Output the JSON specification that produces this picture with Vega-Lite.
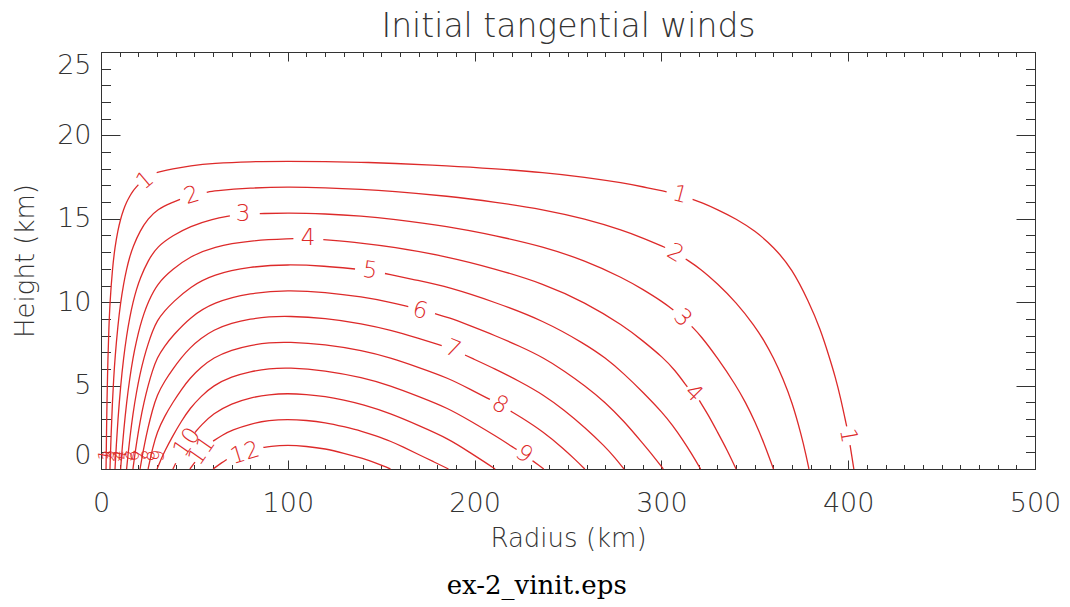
{
  "$schema": "https://vega.github.io/schema/vega-lite/v6.json",
  "width": 934,
  "height": 417,
  "autosize": {"type": "none"},
  "padding": {"left": 101, "top": 52, "right": 35, "bottom": 138},
  "background": "white",
  "title": {"text": "ex-2_vinit.eps", "orient": "bottom", "anchor": "middle", "frame": "bounds", "font": "DejaVu Serif", "fontSize": 26, "fontWeight": "normal", "color": "black", "offset": 22},
  "config": {
    "view": {"stroke": null},
    "axis": {"grid": false, "domainColor": "#333", "tickColor": "#333", "labelColor": "#333", "titleColor": "#333", "labelFont": "DejaVu Sans", "titleFont": "DejaVu Sans", "labelFontWeight": 200, "titleFontWeight": 200, "domainWidth": 1, "tickWidth": 1, "labelOverlap": false}
  },
  "datasets": {
    "lines": [
      {"seg": "1a", "r": 2.7, "z": 0}, {"seg": "1a", "r": 3.0, "z": 2.61}, {"seg": "1a", "r": 3.2, "z": 4.0}, {"seg": "1a", "r": 3.7, "z": 6.67}, {"seg": "1a", "r": 4.2, "z": 8.42}, {"seg": "1a", "r": 4.8, "z": 10}, {"seg": "1a", "r": 6.1, "z": 12}, {"seg": "1a", "r": 7.5, "z": 13.33}, {"seg": "1a", "r": 9, "z": 14.29}, {"seg": "1a", "r": 10.5, "z": 15}, {"seg": "1a", "r": 12.1, "z": 15.56}, {"seg": "1a", "r": 13.7, "z": 16}, {"seg": "1a", "r": 15.4, "z": 16.36}, {"seg": "1a", "r": 17.1, "z": 16.67}, {"seg": "1a", "r": 19, "z": 16.92}, {"seg": "1a", "r": 20, "z": 17.04},
      {"seg": "1b", "r": 29.8, "z": 17.77}, {"seg": "1b", "r": 38.5, "z": 18}, {"seg": "1b", "r": 47.6, "z": 18.18}, {"seg": "1b", "r": 60, "z": 18.33}, {"seg": "1b", "r": 80, "z": 18.43}, {"seg": "1b", "r": 100, "z": 18.45}, {"seg": "1b", "r": 120, "z": 18.44}, {"seg": "1b", "r": 140, "z": 18.39}, {"seg": "1b", "r": 155, "z": 18.33}, {"seg": "1b", "r": 186, "z": 18.18}, {"seg": "1b", "r": 211, "z": 18}, {"seg": "1b", "r": 237, "z": 17.78}, {"seg": "1b", "r": 259, "z": 17.5}, {"seg": "1b", "r": 280, "z": 17.14}, {"seg": "1b", "r": 290, "z": 16.92}, {"seg": "1b", "r": 302.8, "z": 16.62},
      {"seg": "1c", "r": 316.7, "z": 16.16}, {"seg": "1c", "r": 321, "z": 16}, {"seg": "1c", "r": 330, "z": 15.56}, {"seg": "1c", "r": 340, "z": 15}, {"seg": "1c", "r": 350, "z": 14.29}, {"seg": "1c", "r": 360, "z": 13.33}, {"seg": "1c", "r": 370, "z": 12}, {"seg": "1c", "r": 379, "z": 10}, {"seg": "1c", "r": 385, "z": 8.42}, {"seg": "1c", "r": 390, "z": 6.67}, {"seg": "1c", "r": 393, "z": 5.56}, {"seg": "1c", "r": 396, "z": 4.24}, {"seg": "1c", "r": 399.2, "z": 2.55},
      {"seg": "1d", "r": 401, "z": 1.43}, {"seg": "1d", "r": 402, "z": 0.74}, {"seg": "1d", "r": 403, "z": 0},
      {"seg": "2a", "r": 4.8, "z": 0}, {"seg": "2a", "r": 5.4, "z": 2.07}, {"seg": "2a", "r": 6.1, "z": 4}, {"seg": "2a", "r": 6.8, "z": 5.45}, {"seg": "2a", "r": 7.5, "z": 6.67}, {"seg": "2a", "r": 9, "z": 8.57}, {"seg": "2a", "r": 10.5, "z": 10}, {"seg": "2a", "r": 12.1, "z": 11.11}, {"seg": "2a", "r": 13.7, "z": 12}, {"seg": "2a", "r": 15.4, "z": 12.73}, {"seg": "2a", "r": 17.1, "z": 13.33}, {"seg": "2a", "r": 20.9, "z": 14.29}, {"seg": "2a", "r": 25.2, "z": 15}, {"seg": "2a", "r": 30, "z": 15.56}, {"seg": "2a", "r": 38.5, "z": 16}, {"seg": "2a", "r": 42.3, "z": 16.16},
      {"seg": "2b", "r": 56.6, "z": 16.59}, {"seg": "2b", "r": 60, "z": 16.67}, {"seg": "2b", "r": 80, "z": 16.86}, {"seg": "2b", "r": 100, "z": 16.91}, {"seg": "2b", "r": 120, "z": 16.87}, {"seg": "2b", "r": 140, "z": 16.77}, {"seg": "2b", "r": 155, "z": 16.67}, {"seg": "2b", "r": 186, "z": 16.36}, {"seg": "2b", "r": 211, "z": 16}, {"seg": "2b", "r": 237, "z": 15.56}, {"seg": "2b", "r": 259, "z": 15}, {"seg": "2b", "r": 280, "z": 14.29}, {"seg": "2b", "r": 290, "z": 13.85}, {"seg": "2b", "r": 302, "z": 13.28},
      {"seg": "2c", "r": 313, "z": 12.59}, {"seg": "2c", "r": 321, "z": 12}, {"seg": "2c", "r": 330, "z": 11.11}, {"seg": "2c", "r": 340, "z": 10}, {"seg": "2c", "r": 350, "z": 8.57}, {"seg": "2c", "r": 355, "z": 7.69}, {"seg": "2c", "r": 360, "z": 6.67}, {"seg": "2c", "r": 365, "z": 5.45}, {"seg": "2c", "r": 370, "z": 4}, {"seg": "2c", "r": 375, "z": 2}, {"seg": "2c", "r": 377.5, "z": 0.8}, {"seg": "2c", "r": 379, "z": 0},
      {"seg": "3a", "r": 7.5, "z": 0}, {"seg": "3a", "r": 8.2, "z": 1.44}, {"seg": "3a", "r": 9, "z": 2.86}, {"seg": "3a", "r": 10.5, "z": 5}, {"seg": "3a", "r": 12.1, "z": 6.67}, {"seg": "3a", "r": 13.7, "z": 8}, {"seg": "3a", "r": 15.4, "z": 9.09}, {"seg": "3a", "r": 17.1, "z": 10}, {"seg": "3a", "r": 19, "z": 10.77}, {"seg": "3a", "r": 20.9, "z": 11.43}, {"seg": "3a", "r": 25.2, "z": 12.5}, {"seg": "3a", "r": 30, "z": 13.33}, {"seg": "3a", "r": 38.5, "z": 14}, {"seg": "3a", "r": 47.6, "z": 14.55}, {"seg": "3a", "r": 60, "z": 15}, {"seg": "3a", "r": 69, "z": 15.17},
      {"seg": "3b", "r": 85, "z": 15.31}, {"seg": "3b", "r": 100, "z": 15.36}, {"seg": "3b", "r": 120, "z": 15.3}, {"seg": "3b", "r": 140, "z": 15.16}, {"seg": "3b", "r": 155, "z": 15}, {"seg": "3b", "r": 186, "z": 14.55}, {"seg": "3b", "r": 211, "z": 14}, {"seg": "3b", "r": 237, "z": 13.33}, {"seg": "3b", "r": 259, "z": 12.5}, {"seg": "3b", "r": 280, "z": 11.43}, {"seg": "3b", "r": 290, "z": 10.77}, {"seg": "3b", "r": 301, "z": 10}, {"seg": "3b", "r": 306.4, "z": 9.53},
      {"seg": "3c", "r": 316.2, "z": 8.55}, {"seg": "3c", "r": 321, "z": 8}, {"seg": "3c", "r": 330, "z": 6.67}, {"seg": "3c", "r": 340, "z": 5}, {"seg": "3c", "r": 345, "z": 4}, {"seg": "3c", "r": 350, "z": 2.86}, {"seg": "3c", "r": 355, "z": 1.54}, {"seg": "3c", "r": 360, "z": 0},
      {"seg": "4a", "r": 10.5, "z": 0}, {"seg": "4a", "r": 11.3, "z": 1.18}, {"seg": "4a", "r": 12.1, "z": 2.22}, {"seg": "4a", "r": 13.7, "z": 4}, {"seg": "4a", "r": 15.4, "z": 5.45}, {"seg": "4a", "r": 17.1, "z": 6.67}, {"seg": "4a", "r": 19, "z": 7.69}, {"seg": "4a", "r": 20.9, "z": 8.57}, {"seg": "4a", "r": 23, "z": 9.33}, {"seg": "4a", "r": 25.2, "z": 10}, {"seg": "4a", "r": 30, "z": 11.11}, {"seg": "4a", "r": 38.5, "z": 12}, {"seg": "4a", "r": 47.6, "z": 12.73}, {"seg": "4a", "r": 60, "z": 13.33}, {"seg": "4a", "r": 80, "z": 13.71}, {"seg": "4a", "r": 103, "z": 13.81},
      {"seg": "4b", "r": 119, "z": 13.75}, {"seg": "4b", "r": 140, "z": 13.55}, {"seg": "4b", "r": 155, "z": 13.33}, {"seg": "4b", "r": 186, "z": 12.73}, {"seg": "4b", "r": 211, "z": 12}, {"seg": "4b", "r": 237, "z": 11.11}, {"seg": "4b", "r": 259, "z": 10}, {"seg": "4b", "r": 280, "z": 8.57}, {"seg": "4b", "r": 290, "z": 7.69}, {"seg": "4b", "r": 301, "z": 6.67}, {"seg": "4b", "r": 307, "z": 5.96}, {"seg": "4b", "r": 313.9, "z": 4.92},
      {"seg": "4c", "r": 320.3, "z": 4.11}, {"seg": "4c", "r": 325, "z": 3.26}, {"seg": "4c", "r": 330, "z": 2.22}, {"seg": "4c", "r": 335, "z": 1.18}, {"seg": "4c", "r": 340, "z": 0},
      {"seg": "5a", "r": 13.7, "z": 0}, {"seg": "5a", "r": 14.5, "z": 0.9}, {"seg": "5a", "r": 15.4, "z": 1.82}, {"seg": "5a", "r": 17.1, "z": 3.33}, {"seg": "5a", "r": 19, "z": 4.62}, {"seg": "5a", "r": 20.9, "z": 5.71}, {"seg": "5a", "r": 23, "z": 6.67}, {"seg": "5a", "r": 25.2, "z": 7.5}, {"seg": "5a", "r": 27.5, "z": 8.24}, {"seg": "5a", "r": 30, "z": 8.89}, {"seg": "5a", "r": 34, "z": 9.47}, {"seg": "5a", "r": 38.5, "z": 10}, {"seg": "5a", "r": 47.6, "z": 10.91}, {"seg": "5a", "r": 60, "z": 11.67}, {"seg": "5a", "r": 80, "z": 12.14}, {"seg": "5a", "r": 100, "z": 12.27}, {"seg": "5a", "r": 120, "z": 12.17}, {"seg": "5a", "r": 136, "z": 11.99},
      {"seg": "5b", "r": 152, "z": 11.72}, {"seg": "5b", "r": 170, "z": 11.3}, {"seg": "5b", "r": 186, "z": 10.91}, {"seg": "5b", "r": 211, "z": 10}, {"seg": "5b", "r": 237, "z": 8.89}, {"seg": "5b", "r": 259, "z": 7.5}, {"seg": "5b", "r": 270, "z": 6.67}, {"seg": "5b", "r": 280, "z": 5.71}, {"seg": "5b", "r": 290, "z": 4.62}, {"seg": "5b", "r": 301, "z": 3.33}, {"seg": "5b", "r": 306, "z": 2.61}, {"seg": "5b", "r": 311, "z": 1.82}, {"seg": "5b", "r": 316, "z": 0.95}, {"seg": "5b", "r": 321, "z": 0},
      {"seg": "6a", "r": 17.1, "z": 0}, {"seg": "6a", "r": 18, "z": 0.76}, {"seg": "6a", "r": 19, "z": 1.54}, {"seg": "6a", "r": 20.9, "z": 2.86}, {"seg": "6a", "r": 23, "z": 4}, {"seg": "6a", "r": 25.2, "z": 5}, {"seg": "6a", "r": 27.5, "z": 5.88}, {"seg": "6a", "r": 30, "z": 6.67}, {"seg": "6a", "r": 34, "z": 7.37}, {"seg": "6a", "r": 38.5, "z": 8}, {"seg": "6a", "r": 47.6, "z": 9.09}, {"seg": "6a", "r": 60, "z": 10}, {"seg": "6a", "r": 80, "z": 10.57}, {"seg": "6a", "r": 100, "z": 10.72}, {"seg": "6a", "r": 120, "z": 10.61}, {"seg": "6a", "r": 140, "z": 10.32}, {"seg": "6a", "r": 155, "z": 10}, {"seg": "6a", "r": 164.5, "z": 9.73},
      {"seg": "6b", "r": 178.8, "z": 9.31}, {"seg": "6b", "r": 186, "z": 9.09}, {"seg": "6b", "r": 198, "z": 8.57}, {"seg": "6b", "r": 211, "z": 8}, {"seg": "6b", "r": 224, "z": 7.37}, {"seg": "6b", "r": 237, "z": 6.67}, {"seg": "6b", "r": 248, "z": 5.88}, {"seg": "6b", "r": 259, "z": 5}, {"seg": "6b", "r": 270, "z": 4}, {"seg": "6b", "r": 280, "z": 2.86}, {"seg": "6b", "r": 290, "z": 1.54}, {"seg": "6b", "r": 296, "z": 0.73}, {"seg": "6b", "r": 301, "z": 0},
      {"seg": "7a", "r": 20.9, "z": 0}, {"seg": "7a", "r": 22, "z": 0.72}, {"seg": "7a", "r": 23, "z": 1.33}, {"seg": "7a", "r": 25.2, "z": 2.5}, {"seg": "7a", "r": 27.5, "z": 3.53}, {"seg": "7a", "r": 30, "z": 4.44}, {"seg": "7a", "r": 34, "z": 5.26}, {"seg": "7a", "r": 38.5, "z": 6}, {"seg": "7a", "r": 43, "z": 6.67}, {"seg": "7a", "r": 47.6, "z": 7.27}, {"seg": "7a", "r": 53.5, "z": 7.83}, {"seg": "7a", "r": 60, "z": 8.33}, {"seg": "7a", "r": 70, "z": 8.76}, {"seg": "7a", "r": 80, "z": 9.0}, {"seg": "7a", "r": 90, "z": 9.13}, {"seg": "7a", "r": 100, "z": 9.17}, {"seg": "7a", "r": 120, "z": 9.05}, {"seg": "7a", "r": 140, "z": 8.71}, {"seg": "7a", "r": 155, "z": 8.33}, {"seg": "7a", "r": 170, "z": 7.83}, {"seg": "7a", "r": 182.4, "z": 7.4},
      {"seg": "7b", "r": 194.9, "z": 6.83}, {"seg": "7b", "r": 198, "z": 6.67}, {"seg": "7b", "r": 211, "z": 6}, {"seg": "7b", "r": 224, "z": 5.26}, {"seg": "7b", "r": 237, "z": 4.44}, {"seg": "7b", "r": 248, "z": 3.53}, {"seg": "7b", "r": 259, "z": 2.5}, {"seg": "7b", "r": 270, "z": 1.33}, {"seg": "7b", "r": 275, "z": 0.69}, {"seg": "7b", "r": 280, "z": 0},
      {"seg": "8a", "r": 25.2, "z": 0}, {"seg": "8a", "r": 26.3, "z": 0.58}, {"seg": "8a", "r": 27.5, "z": 1.18}, {"seg": "8a", "r": 30, "z": 2.22}, {"seg": "8a", "r": 34, "z": 3.16}, {"seg": "8a", "r": 38.5, "z": 4}, {"seg": "8a", "r": 43, "z": 4.76}, {"seg": "8a", "r": 47.6, "z": 5.45}, {"seg": "8a", "r": 53.5, "z": 6.09}, {"seg": "8a", "r": 60, "z": 6.67}, {"seg": "8a", "r": 70, "z": 7.15}, {"seg": "8a", "r": 80, "z": 7.42}, {"seg": "8a", "r": 90, "z": 7.58}, {"seg": "8a", "r": 100, "z": 7.62}, {"seg": "8a", "r": 120, "z": 7.48}, {"seg": "8a", "r": 140, "z": 7.1}, {"seg": "8a", "r": 155, "z": 6.67}, {"seg": "8a", "r": 170, "z": 6.09}, {"seg": "8a", "r": 186, "z": 5.45}, {"seg": "8a", "r": 198, "z": 4.76}, {"seg": "8a", "r": 208.2, "z": 4.17},
      {"seg": "8b", "r": 219.3, "z": 3.47}, {"seg": "8b", "r": 224, "z": 3.16}, {"seg": "8b", "r": 237, "z": 2.22}, {"seg": "8b", "r": 248, "z": 1.18}, {"seg": "8b", "r": 254, "z": 0.55}, {"seg": "8b", "r": 259, "z": 0},
      {"seg": "9a", "r": 30, "z": 0}, {"seg": "9a", "r": 32, "z": 0.54}, {"seg": "9a", "r": 34, "z": 1.05}, {"seg": "9a", "r": 38.5, "z": 2}, {"seg": "9a", "r": 43, "z": 2.86}, {"seg": "9a", "r": 47.6, "z": 3.64}, {"seg": "9a", "r": 53.5, "z": 4.35}, {"seg": "9a", "r": 60, "z": 5}, {"seg": "9a", "r": 70, "z": 5.54}, {"seg": "9a", "r": 80, "z": 5.85}, {"seg": "9a", "r": 90, "z": 6.02}, {"seg": "9a", "r": 100, "z": 6.08}, {"seg": "9a", "r": 120, "z": 5.92}, {"seg": "9a", "r": 140, "z": 5.48}, {"seg": "9a", "r": 155, "z": 5}, {"seg": "9a", "r": 170, "z": 4.35}, {"seg": "9a", "r": 186, "z": 3.64}, {"seg": "9a", "r": 198, "z": 2.86}, {"seg": "9a", "r": 211, "z": 2}, {"seg": "9a", "r": 222.5, "z": 1.17},
      {"seg": "9b", "r": 231, "z": 0.5}, {"seg": "9b", "r": 234, "z": 0.25}, {"seg": "9b", "r": 237, "z": 0},
      {"seg": "10a", "r": 38.5, "z": 0}, {"seg": "10a", "r": 40, "z": 0.34},
      {"seg": "10b", "r": 50.3, "z": 2.19}, {"seg": "10b", "r": 53.5, "z": 2.61}, {"seg": "10b", "r": 60, "z": 3.33}, {"seg": "10b", "r": 70, "z": 3.94}, {"seg": "10b", "r": 80, "z": 4.28}, {"seg": "10b", "r": 90, "z": 4.47}, {"seg": "10b", "r": 100, "z": 4.53}, {"seg": "10b", "r": 110, "z": 4.47}, {"seg": "10b", "r": 120, "z": 4.35}, {"seg": "10b", "r": 130, "z": 4.13}, {"seg": "10b", "r": 140, "z": 3.87}, {"seg": "10b", "r": 155, "z": 3.33}, {"seg": "10b", "r": 170, "z": 2.61}, {"seg": "10b", "r": 186, "z": 1.82}, {"seg": "10b", "r": 198, "z": 0.95}, {"seg": "10b", "r": 205, "z": 0.45}, {"seg": "10b", "r": 211, "z": 0},
      {"seg": "11a", "r": 47.6, "z": 0}, {"seg": "11a", "r": 50.3, "z": 0.41},
      {"seg": "11b", "r": 60, "z": 1.67}, {"seg": "11b", "r": 65, "z": 2.04}, {"seg": "11b", "r": 70, "z": 2.33}, {"seg": "11b", "r": 80, "z": 2.71}, {"seg": "11b", "r": 90, "z": 2.92}, {"seg": "11b", "r": 100, "z": 2.98}, {"seg": "11b", "r": 110, "z": 2.92}, {"seg": "11b", "r": 120, "z": 2.79}, {"seg": "11b", "r": 130, "z": 2.54}, {"seg": "11b", "r": 140, "z": 2.26}, {"seg": "11b", "r": 147, "z": 1.99}, {"seg": "11b", "r": 155, "z": 1.67}, {"seg": "11b", "r": 162, "z": 1.31}, {"seg": "11b", "r": 170, "z": 0.87}, {"seg": "11b", "r": 178, "z": 0.44}, {"seg": "11b", "r": 186, "z": 0},
      {"seg": "12a", "r": 60, "z": 0}, {"seg": "12a", "r": 65, "z": 0.41}, {"seg": "12a", "r": 67.3, "z": 0.57},
      {"seg": "12b", "r": 86.9, "z": 1.29}, {"seg": "12b", "r": 90, "z": 1.36}, {"seg": "12b", "r": 100, "z": 1.44}, {"seg": "12b", "r": 110, "z": 1.36}, {"seg": "12b", "r": 120, "z": 1.22}, {"seg": "12b", "r": 130, "z": 0.95}, {"seg": "12b", "r": 140, "z": 0.64}, {"seg": "12b", "r": 147, "z": 0.36}, {"seg": "12b", "r": 151, "z": 0.19}, {"seg": "12b", "r": 155, "z": 0}
    ],
    "labels": [
      {"id": "1L", "lab": "1", "r": 23.6, "z": 17.3},
      {"id": "2L", "lab": "2", "r": 48.5, "z": 16.4},
      {"id": "3L", "lab": "3", "r": 76, "z": 15.3},
      {"id": "4L", "lab": "4", "r": 110.8, "z": 13.85},
      {"id": "5L", "lab": "5", "r": 144, "z": 11.9},
      {"id": "6L", "lab": "6", "r": 170.8, "z": 9.5},
      {"id": "7L", "lab": "7", "r": 188.4, "z": 7.2},
      {"id": "8L", "lab": "8", "r": 213.6, "z": 3.85},
      {"id": "9L", "lab": "9", "r": 226.5, "z": 0.9},
      {"id": "10L", "lab": "10", "r": 46, "z": 1.6},
      {"id": "11L", "lab": "11", "r": 54, "z": 1.1},
      {"id": "12L", "lab": "12", "r": 77, "z": 0.95},
      {"id": "1R", "lab": "1", "r": 310, "z": 16.45},
      {"id": "2R", "lab": "2", "r": 307.5, "z": 12.95},
      {"id": "3R", "lab": "3", "r": 311.3, "z": 9.05},
      {"id": "4R", "lab": "4", "r": 317.2, "z": 4.55},
      {"id": "1B", "lab": "1", "r": 400, "z": 2.0}
    ],
    "inner": [
      {"lab": "1", "r": 2.75, "z": 0.8},
      {"lab": "2", "r": 4.95, "z": 0.8},
      {"lab": "3", "r": 7.7, "z": 0.8},
      {"lab": "4", "r": 10.8, "z": 0.8},
      {"lab": "5", "r": 14.0, "z": 0.8},
      {"lab": "6", "r": 17.5, "z": 0.8},
      {"lab": "7", "r": 21.4, "z": 0.8},
      {"lab": "8", "r": 25.8, "z": 0.8},
      {"lab": "9", "r": 30.9, "z": 0.8}
    ]
  },
  "resolve": {"axis": {"x": "independent", "y": "independent"}},
  "layer": [
    {
      "data": {"name": "lines"},
      "mark": {"type": "line", "color": "#dd2a2a", "strokeWidth": 1.3, "interpolate": "basis"},
      "encoding": {
        "x": {"field": "r", "type": "quantitative", "scale": {"domain": [0, 500], "nice": false, "zero": false},
              "axis": {"orient": "bottom", "values": [0, 100, 200, 300, 400, 500], "tickSize": -9, "labelPadding": 30, "labelFlush": false, "labelFontSize": 27, "title": "Radius (km)", "titleFontSize": 26, "titlePadding": 9}},
        "y": {"field": "z", "type": "quantitative", "scale": {"domain": [0, 25], "nice": false, "zero": false},
              "axis": {"orient": "left", "values": [0, 5, 10, 15, 20, 25], "tickSize": -19, "labelPadding": 29, "labelFlush": true, "labelFontSize": 27, "title": "Height (km)", "titleFontSize": 26, "titlePadding": 18}},
        "detail": {"field": "seg"}
      }
    },
    {
      "data": {"name": "labels"},
      "mark": {"type": "point", "opacity": 0},
      "encoding": {
        "x": {"field": "r", "type": "quantitative", "scale": {"domain": [0, 500], "nice": false, "zero": false},
              "axis": {"orient": "bottom", "values": [0, 10, 20, 30, 40, 50, 60, 70, 80, 90, 100, 110, 120, 130, 140, 150, 160, 170, 180, 190, 200, 210, 220, 230, 240, 250, 260, 270, 280, 290, 300, 310, 320, 330, 340, 350, 360, 370, 380, 390, 400, 410, 420, 430, 440, 450, 460, 470, 480, 490, 500], "tickSize": -4.5, "labels": false, "domain": false, "title": null}},
        "y": {"field": "z", "type": "quantitative", "scale": {"domain": [0, 25], "nice": false, "zero": false},
              "axis": {"orient": "left", "values": [0, 1, 2, 3, 4, 5, 6, 7, 8, 9, 10, 11, 12, 13, 14, 15, 16, 17, 18, 19, 20, 21, 22, 23, 24, 25], "tickSize": -9.5, "labels": false, "domain": false, "title": null}}
      }
    },
    {
      "data": {"name": "labels"},
      "mark": {"type": "point", "opacity": 0},
      "encoding": {
        "x": {"field": "r", "type": "quantitative", "scale": {"domain": [0, 500], "nice": false, "zero": false},
              "axis": {"orient": "top", "values": [0, 100, 200, 300, 400, 500], "tickSize": -9, "labels": false, "title": "Initial tangential winds", "titleFontSize": 33, "titlePadding": 8}},
        "y": {"field": "z", "type": "quantitative", "scale": {"domain": [0, 25], "nice": false, "zero": false},
              "axis": {"orient": "right", "values": [0, 5, 10, 15, 20, 25], "tickSize": -19, "labels": false, "title": null}}
      }
    },
    {
      "data": {"name": "labels"},
      "mark": {"type": "point", "opacity": 0},
      "encoding": {
        "x": {"field": "r", "type": "quantitative", "scale": {"domain": [0, 500], "nice": false, "zero": false},
              "axis": {"orient": "top", "values": [0, 10, 20, 30, 40, 50, 60, 70, 80, 90, 100, 110, 120, 130, 140, 150, 160, 170, 180, 190, 200, 210, 220, 230, 240, 250, 260, 270, 280, 290, 300, 310, 320, 330, 340, 350, 360, 370, 380, 390, 400, 410, 420, 430, 440, 450, 460, 470, 480, 490, 500], "tickSize": -4.5, "labels": false, "domain": false, "title": null}},
        "y": {"field": "z", "type": "quantitative", "scale": {"domain": [0, 25], "nice": false, "zero": false},
              "axis": {"orient": "right", "values": [0, 1, 2, 3, 4, 5, 6, 7, 8, 9, 10, 11, 12, 13, 14, 15, 16, 17, 18, 19, 20, 21, 22, 23, 24, 25], "tickSize": -9.5, "labels": false, "domain": false, "title": null}}
      }
    },
    {"data": {"name": "labels"}, "transform": [{"filter": {"field": "id", "oneOf": ["3L", "4L"]}}], "mark": {"type": "text", "angle": 0, "color": "#dd2a2a", "font": "DejaVu Sans", "fontWeight": 200, "fontSize": 23}, "encoding": {"x": {"field": "r", "type": "quantitative", "axis": null}, "y": {"field": "z", "type": "quantitative", "axis": null}, "text": {"field": "lab"}}},
    {"data": {"name": "labels"}, "transform": [{"filter": {"field": "id", "oneOf": ["5L"]}}], "mark": {"type": "text", "angle": 8, "color": "#dd2a2a", "font": "DejaVu Sans", "fontWeight": 200, "fontSize": 23}, "encoding": {"x": {"field": "r", "type": "quantitative", "axis": null}, "y": {"field": "z", "type": "quantitative", "axis": null}, "text": {"field": "lab"}}},
    {"data": {"name": "labels"}, "transform": [{"filter": {"field": "id", "oneOf": ["6L", "1R"]}}], "mark": {"type": "text", "angle": 15, "color": "#dd2a2a", "font": "DejaVu Sans", "fontWeight": 200, "fontSize": 23}, "encoding": {"x": {"field": "r", "type": "quantitative", "axis": null}, "y": {"field": "z", "type": "quantitative", "axis": null}, "text": {"field": "lab"}}},
    {"data": {"name": "labels"}, "transform": [{"filter": {"field": "id", "oneOf": ["7L"]}}], "mark": {"type": "text", "angle": 22, "color": "#dd2a2a", "font": "DejaVu Sans", "fontWeight": 200, "fontSize": 23}, "encoding": {"x": {"field": "r", "type": "quantitative", "axis": null}, "y": {"field": "z", "type": "quantitative", "axis": null}, "text": {"field": "lab"}}},
    {"data": {"name": "labels"}, "transform": [{"filter": {"field": "id", "oneOf": ["8L", "2R"]}}], "mark": {"type": "text", "angle": 30, "color": "#dd2a2a", "font": "DejaVu Sans", "fontWeight": 200, "fontSize": 23}, "encoding": {"x": {"field": "r", "type": "quantitative", "axis": null}, "y": {"field": "z", "type": "quantitative", "axis": null}, "text": {"field": "lab"}}},
    {"data": {"name": "labels"}, "transform": [{"filter": {"field": "id", "oneOf": ["9L"]}}], "mark": {"type": "text", "angle": 37, "color": "#dd2a2a", "font": "DejaVu Sans", "fontWeight": 200, "fontSize": 23}, "encoding": {"x": {"field": "r", "type": "quantitative", "axis": null}, "y": {"field": "z", "type": "quantitative", "axis": null}, "text": {"field": "lab"}}},
    {"data": {"name": "labels"}, "transform": [{"filter": {"field": "id", "oneOf": ["3R", "4R"]}}], "mark": {"type": "text", "angle": 45, "color": "#dd2a2a", "font": "DejaVu Sans", "fontWeight": 200, "fontSize": 23}, "encoding": {"x": {"field": "r", "type": "quantitative", "axis": null}, "y": {"field": "z", "type": "quantitative", "axis": null}, "text": {"field": "lab"}}},
    {"data": {"name": "labels"}, "transform": [{"filter": {"field": "id", "oneOf": ["1B"]}}], "mark": {"type": "text", "angle": 80, "color": "#dd2a2a", "font": "DejaVu Sans", "fontWeight": 200, "fontSize": 23}, "encoding": {"x": {"field": "r", "type": "quantitative", "axis": null}, "y": {"field": "z", "type": "quantitative", "axis": null}, "text": {"field": "lab"}}},
    {"data": {"name": "labels"}, "transform": [{"filter": {"field": "id", "oneOf": ["2L", "12L"]}}], "mark": {"type": "text", "angle": -17, "color": "#dd2a2a", "font": "DejaVu Sans", "fontWeight": 200, "fontSize": 23}, "encoding": {"x": {"field": "r", "type": "quantitative", "axis": null}, "y": {"field": "z", "type": "quantitative", "axis": null}, "text": {"field": "lab"}}},
    {"data": {"name": "labels"}, "transform": [{"filter": {"field": "id", "oneOf": ["1L"]}}], "mark": {"type": "text", "angle": -40, "color": "#dd2a2a", "font": "DejaVu Sans", "fontWeight": 200, "fontSize": 23}, "encoding": {"x": {"field": "r", "type": "quantitative", "axis": null}, "y": {"field": "z", "type": "quantitative", "axis": null}, "text": {"field": "lab"}}},
    {"data": {"name": "labels"}, "transform": [{"filter": {"field": "id", "oneOf": ["10L", "11L"]}}], "mark": {"type": "text", "angle": -55, "color": "#dd2a2a", "font": "DejaVu Sans", "fontWeight": 200, "fontSize": 23}, "encoding": {"x": {"field": "r", "type": "quantitative", "axis": null}, "y": {"field": "z", "type": "quantitative", "axis": null}, "text": {"field": "lab"}}},
    {"data": {"name": "inner"}, "mark": {"type": "text", "angle": -80, "color": "#dd2a2a", "font": "DejaVu Sans", "fontWeight": 200, "fontSize": 18}, "encoding": {"x": {"field": "r", "type": "quantitative", "axis": null}, "y": {"field": "z", "type": "quantitative", "axis": null}, "text": {"field": "lab"}}}
  ]
}
